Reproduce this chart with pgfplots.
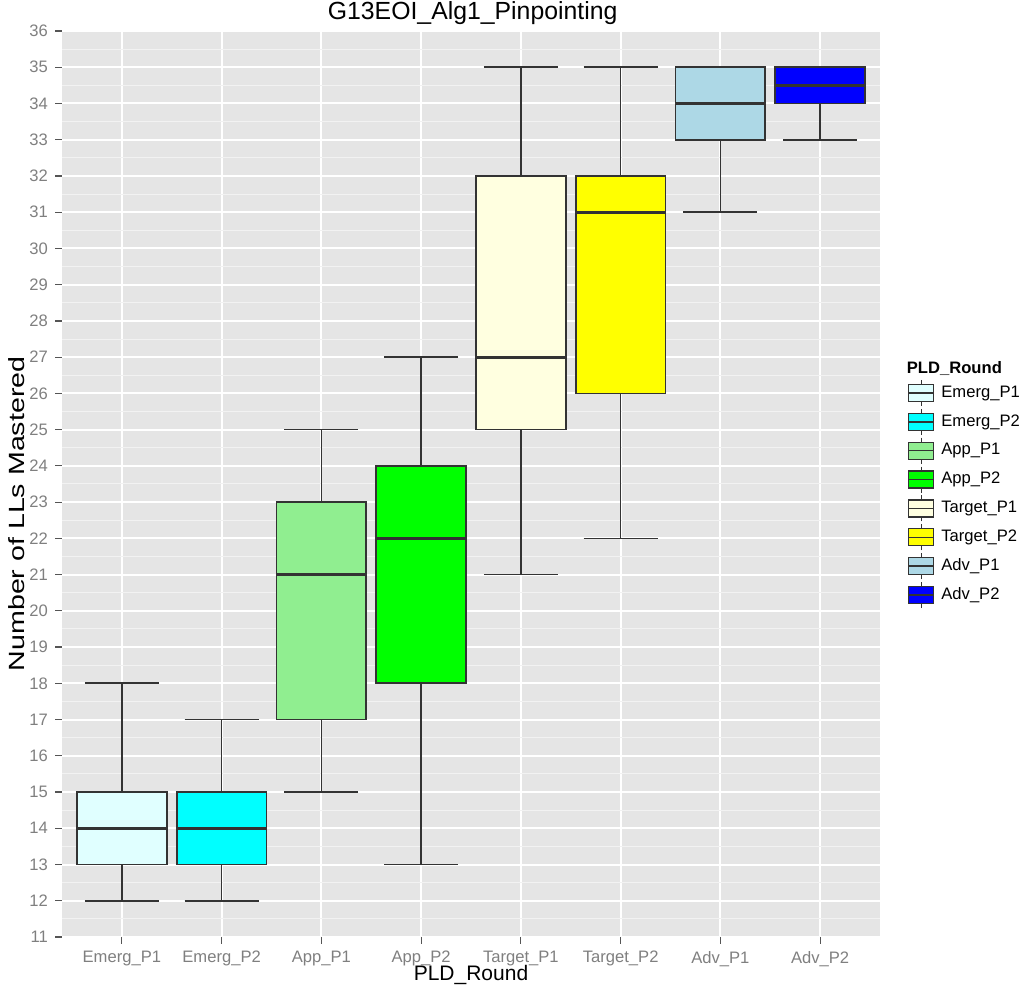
\documentclass[border=0pt]{standalone}
\usepackage{pgfplots}
\pgfplotsset{compat=1.18}
\usepgfplotslibrary{statistics}
\usepackage{fontspec}
\setmainfont{Liberation Sans}
\definecolor{panelbg}{HTML}{E5E5E5}
\definecolor{minorgrid}{HTML}{F2F2F2}
\definecolor{ticktext}{HTML}{7F7F7F}
\definecolor{tickcol}{HTML}{555555}
\definecolor{edge}{HTML}{333333}
\definecolor{cA}{HTML}{E0FFFF}
\definecolor{cB}{HTML}{00FFFF}
\definecolor{cC}{HTML}{90EE90}
\definecolor{cD}{HTML}{00FF00}
\definecolor{cE}{HTML}{FFFFE0}
\definecolor{cF}{HTML}{FFFF00}
\definecolor{cG}{HTML}{ADD8E6}
\definecolor{cH}{HTML}{0000FF}
\pgfplotsset{
  boxleg/.style={legend image code/.code={
    \draw[fill=#1, draw=edge, line width=0.6pt] (0pt,-4.25pt) rectangle (12.5pt,4.25pt);
    \draw[edge, line width=0.8pt] (0pt,0pt) -- (12.5pt,0pt);
    \draw[edge, line width=0.6pt] (6.25pt,4.25pt) -- (6.25pt,6.5pt) (6.25pt,-4.25pt) -- (6.25pt,-6.5pt);
  }},
  mybox/.style={draw=edge, line width=0.85pt, fill=#1, boxleg=#1,
    boxplot/every median/.style={line width=1.6pt}},
}
\begin{document}
\begin{tikzpicture}
\useasboundingbox (0pt,0pt) rectangle (510.5pt,494.5pt);
\begin{axis}[
  at={(31pt,26pt)}, anchor=south west,
  scale only axis, width=409pt, height=453pt,
  clip=false,
  boxplot/draw direction=y,
  xmin=-0.6, xmax=7.6, ymin=11, ymax=36,
  xtick={0,...,7},
  xticklabels={Emerg\_P1,Emerg\_P2,App\_P1,App\_P2,Target\_P1,Target\_P2,Adv\_P1,Adv\_P2},
  ytick={11,...,36},
  minor ytick={11.5,12.5,...,35.5},
  grid=both,
  major grid style={white, line width=1pt},
  minor grid style={minorgrid, line width=0.5pt},
  axis background/.style={fill=panelbg},
  axis line style={draw=none},
  tick align=outside, tick pos=left,
  major tick length=3.5pt, minor tick length=0pt,
  tick style={tickcol, line width=0.6pt},
  /pgf/number format/assume math mode=true,
  ticklabel style={font=\fontsize{8.3}{10}\selectfont, text=ticktext},
  xlabel={PLD\_Round},
  xlabel style={at={(axis description cs:0.5,-0.042)}, anchor=center, font=\fontsize{10.5}{12}\selectfont},
  ylabel={\scalebox{1.3}[1]{\fontsize{11}{13}\selectfont Number of LLs Mastered}},
  ylabel style={at={(axis description cs:-0.055,0.467)}, anchor=center, rotate=0},
  title={G13EOI\_Alg1\_Pinpointing},
  title style={at={(axis description cs:0.502,1.0067)}, anchor=center, font=\fontsize{12.4}{14}\selectfont},
  legend cell align=left,
  legend style={at={(axis description cs:1.0335,0.616)}, anchor=north west, draw=none, fill=none,
    font=\fontsize{8.3}{10}\selectfont, row sep=0.85pt, inner sep=0pt,
    /tikz/every odd column/.append style={column sep=1.5pt}},
]
\addplot[mybox=cA, boxplot prepared={draw position=0, lower whisker=12, lower quartile=13, median=14, upper quartile=15, upper whisker=18, box extend=0.9, whisker extend=0.74}] coordinates {};
\addlegendentry{Emerg\_P1}
\addplot[mybox=cB, boxplot prepared={draw position=1, lower whisker=12, lower quartile=13, median=14, upper quartile=15, upper whisker=17, box extend=0.9, whisker extend=0.74}] coordinates {};
\addlegendentry{Emerg\_P2}
\addplot[mybox=cC, boxplot prepared={draw position=2, lower whisker=15, lower quartile=17, median=21, upper quartile=23, upper whisker=25, box extend=0.9, whisker extend=0.74}] coordinates {};
\addlegendentry{App\_P1}
\addplot[mybox=cD, boxplot prepared={draw position=3, lower whisker=13, lower quartile=18, median=22, upper quartile=24, upper whisker=27, box extend=0.9, whisker extend=0.74}] coordinates {};
\addlegendentry{App\_P2}
\addplot[mybox=cE, boxplot prepared={draw position=4, lower whisker=21, lower quartile=25, median=27, upper quartile=32, upper whisker=35, box extend=0.9, whisker extend=0.74}] coordinates {};
\addlegendentry{Target\_P1}
\addplot[mybox=cF, boxplot prepared={draw position=5, lower whisker=22, lower quartile=26, median=31, upper quartile=32, upper whisker=35, box extend=0.9, whisker extend=0.74}] coordinates {};
\addlegendentry{Target\_P2}
\addplot[mybox=cG, boxplot prepared={draw position=6, lower whisker=31, lower quartile=33, median=34, upper quartile=35, upper whisker=35, box extend=0.9, whisker extend=0.74}] coordinates {};
\addlegendentry{Adv\_P1}
\addplot[mybox=cH, boxplot prepared={draw position=7, lower whisker=33, lower quartile=34, median=34.5, upper quartile=35, upper whisker=35, box extend=0.9, whisker extend=0.74}] coordinates {};
\addlegendentry{Adv\_P2}
\node[anchor=west, inner sep=0pt, font=\fontsize{8.3}{10}\selectfont\bfseries] at (axis description cs:1.0324,0.628) {PLD\_Round};
\end{axis}
\end{tikzpicture}
\end{document}
